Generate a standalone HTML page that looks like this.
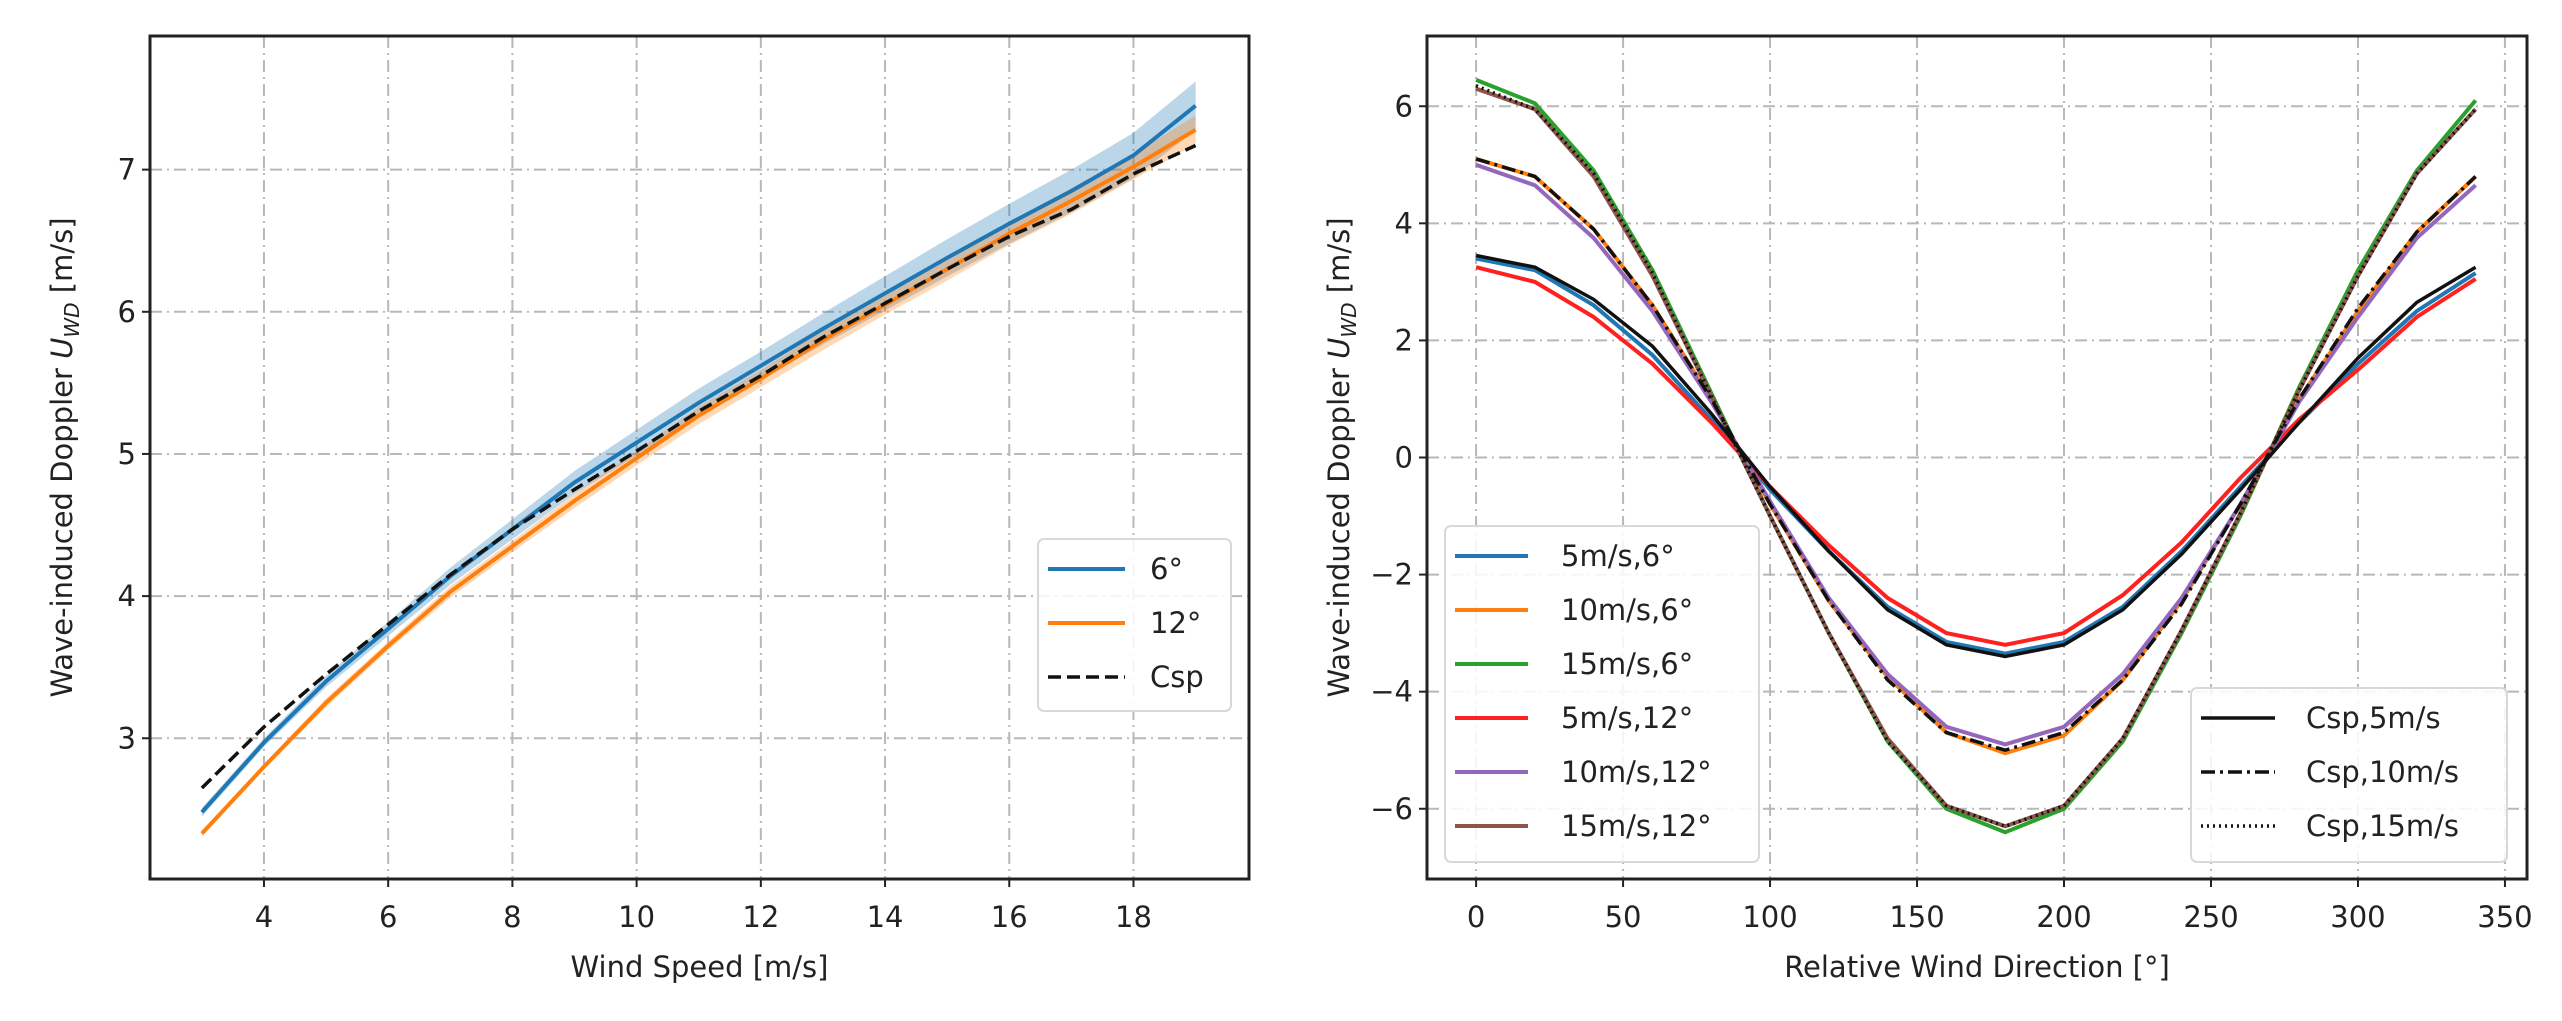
<!DOCTYPE html>
<html><head><meta charset="utf-8"><style>
html,body{margin:0;padding:0;background:#fff}
svg text{font-family:"DejaVu Sans","Liberation Sans",sans-serif;fill:#222}
</style></head><body>
<svg id="fig" width="2562" height="1016" xmlns="http://www.w3.org/2000/svg"></svg>
<script>
// ---- Left chart data ----
const speeds = [3,4,5,6,7,8,9,10,11,12,13,14,15,16,17,18,19];
const inc6 = [2.48,2.97,3.4,3.77,4.14,4.47,4.8,5.08,5.36,5.62,5.88,6.13,6.38,6.62,6.85,7.1,7.45];
const inc6Band = [0.03,0.03,0.04,0.05,0.06,0.07,0.08,0.09,0.1,0.1,0.11,0.12,0.13,0.14,0.15,0.16,0.17];
const inc12 = [2.33,2.8,3.25,3.65,4.03,4.35,4.67,4.97,5.27,5.53,5.8,6.05,6.3,6.55,6.78,7.02,7.28];
const inc12Band = [0.02,0.02,0.03,0.03,0.04,0.04,0.05,0.05,0.06,0.06,0.07,0.07,0.08,0.08,0.09,0.09,0.1];
const cspSpeed = [2.65,3.08,3.45,3.8,4.15,4.47,4.75,5.02,5.3,5.55,5.82,6.06,6.3,6.53,6.72,6.97,7.17];
const leftXTicks = [4,6,8,10,12,14,16,18];
const leftYTicks = [3,4,5,6,7];
// ---- Right chart data ----
const dirs = [0,20,40,60,80,100,120,140,160,180,200,220,240,260,280,300,320,340];
const s5i6 = [3.4,3.2,2.6,1.75,0.65,-0.55,-1.6,-2.55,-3.15,-3.35,-3.15,-2.55,-1.6,-0.5,0.6,1.6,2.5,3.15];
const s10i6 = [5.1,4.8,3.9,2.6,1.0,-0.8,-2.45,-3.75,-4.7,-5.05,-4.75,-3.8,-2.45,-0.8,1.0,2.5,3.85,4.8];
const s15i6 = [6.45,6.05,4.9,3.2,1.1,-1.0,-3.0,-4.85,-6.0,-6.4,-6.0,-4.85,-3.0,-1.0,1.2,3.2,4.9,6.1];
const s5i12 = [3.25,3.0,2.4,1.6,0.6,-0.5,-1.5,-2.4,-3.0,-3.2,-3.0,-2.35,-1.45,-0.35,0.65,1.5,2.4,3.05];
const s10i12 = [5.0,4.65,3.75,2.5,0.95,-0.75,-2.4,-3.7,-4.6,-4.9,-4.6,-3.7,-2.4,-0.8,0.95,2.4,3.75,4.65];
const s15i12 = [6.3,5.95,4.8,3.1,1.05,-1.0,-3.0,-4.8,-5.95,-6.3,-5.95,-4.8,-2.95,-0.95,1.15,3.1,4.85,5.95];
const csp5 = [3.45,3.25,2.7,1.9,0.75,-0.5,-1.6,-2.6,-3.2,-3.4,-3.2,-2.6,-1.65,-0.55,0.6,1.7,2.65,3.25];
const csp10 = [5.1,4.8,3.9,2.6,1.0,-0.8,-2.45,-3.8,-4.7,-5.0,-4.7,-3.8,-2.5,-0.8,1.0,2.55,3.85,4.8];
const csp15 = [6.35,5.95,4.85,3.15,1.05,-1.0,-3.0,-4.85,-5.95,-6.3,-5.95,-4.8,-2.95,-0.95,1.15,3.1,4.85,5.95];
const rightXTicks = [0,50,100,150,200,250,300,350];
const rightYTicks = [-6,-4,-2,0,2,4,6];

const NS='http://www.w3.org/2000/svg';
const svg=document.getElementById('fig');
function mk(tag,attrs,parent,name){const e=document.createElementNS(NS,tag);for(const k in attrs)e.setAttribute(k,attrs[k]);


(parent||svg).appendChild(e);return e;}

function axes(box,xr,yr){
  const sx=v=>box.x0+(v-xr[0])/(xr[1]-xr[0])*(box.x1-box.x0);
  const sy=v=>box.y1-(v-yr[0])/(yr[1]-yr[0])*(box.y1-box.y0);
  return {sx,sy};
}
function pathOf(xs,ys,sx,sy){return xs.map((x,i)=>(i?'L':'M')+sx(x).toFixed(1)+' '+sy(ys[i]).toFixed(1)).join(' ');}

function frame(g,box,sx,sy,xt,yt,xlab,ylab,fmt){
  xt.forEach(t=>{const x=sx(t);
    mk('line',{x1:x,y1:box.y0,x2:x,y2:box.y1,stroke:'#b8b8b8','stroke-width':2,'stroke-dasharray':'12 5 2 5'},g,'x-grid-line');
    mk('line',{x1:x,y1:box.y1,x2:x,y2:box.y1+8,stroke:'#222','stroke-width':2},g,'x-tick');
    const t1=mk('text',{x:x,y:box.y1+48,'font-size':29,'text-anchor':'middle'},g,'x-tick-label');t1.textContent=fmt(t);
  });
  yt.forEach(t=>{const y=sy(t);
    mk('line',{x1:box.x0,y1:y,x2:box.x1,y2:y,stroke:'#b8b8b8','stroke-width':2,'stroke-dasharray':'12 5 2 5'},g,'y-grid-line');
    mk('line',{x1:box.x0-8,y1:y,x2:box.x0,y2:y,stroke:'#222','stroke-width':2},g,'y-tick');
    const t1=mk('text',{x:box.x0-14,y:y+10,'font-size':29,'text-anchor':'end'},g,'y-tick-label');t1.textContent=fmt(t);
  });
  const xl=mk('text',{x:(box.x0+box.x1)/2,y:box.y1+98,'font-size':29,'text-anchor':'middle'},g,'x-axis-title');xl.textContent=xlab;
  const cy=(box.y0+box.y1)/2;
  const yl=mk('text',{x:0,y:0,'font-size':29,'text-anchor':'middle',transform:`translate(${box.x0-78},${cy}) rotate(-90)`},g,'y-axis-title');
  yl.innerHTML='Wave-induced Doppler <tspan font-style="italic">U</tspan><tspan font-style="italic" font-size="20" dy="7">WD</tspan><tspan dy="-7"> [m/s]</tspan>';
}
function spines(g,box){mk('rect',{x:box.x0,y:box.y0,width:box.x1-box.x0,height:box.y1-box.y0,fill:'none',stroke:'#222','stroke-width':3},g,'axes-frame');}

// ---- Left chart ----
const gL=mk('g',{},svg,'left-chart');
const boxL={x0:150,x1:1249,y0:36,y1:879};
const L=axes(boxL,[2.165,19.86],[2.01,7.94]);
frame(gL,boxL,L.sx,L.sy,leftXTicks,leftYTicks,'Wind Speed [m/s]','',v=>String(v));
function band(g,xs,ys,bs,col,name,sx,sy){
  const up=xs.map((x,i)=>sx(x).toFixed(1)+','+sy(ys[i]+bs[i]).toFixed(1));
  const dn=xs.map((x,i)=>sx(x).toFixed(1)+','+sy(ys[i]-bs[i]).toFixed(1)).reverse();
  mk('polygon',{points:up.concat(dn).join(' '),fill:col,'fill-opacity':0.3,stroke:'none'},g,name);
}
band(gL,speeds,inc6,inc6Band,'#1f77b4','band-6deg',L.sx,L.sy);
band(gL,speeds,inc12,inc12Band,'#ff7f0e','band-12deg',L.sx,L.sy);
mk('path',{d:pathOf(speeds,inc6,L.sx,L.sy),fill:'none',stroke:'#1f77b4','stroke-width':4},gL,'line-6deg');
mk('path',{d:pathOf(speeds,inc12,L.sx,L.sy),fill:'none',stroke:'#ff7f0e','stroke-width':4},gL,'line-12deg');
mk('path',{d:pathOf(speeds,cspSpeed,L.sx,L.sy),fill:'none',stroke:'#111','stroke-width':3.5,'stroke-dasharray':'13 6'},gL,'line-csp');
spines(gL,boxL);

function legend(g,x,y,w,h,items,lineLen,textDx,name){
  const lg=mk('g',{},g,name);
  mk('rect',{x:x,y:y,width:w,height:h,rx:6,fill:'#fff','fill-opacity':0.85,stroke:'#d8d8d8','stroke-width':2},lg,'legend-box');
  items.forEach((it,i)=>{const cy=y+30+i*54;
    const a={x1:x+10,y1:cy,x2:x+10+lineLen,y2:cy,stroke:it.c,'stroke-width':it.w||4};
    if(it.d)a['stroke-dasharray']=it.d;
    mk('line',a,lg,'legend-swatch');
    const t=mk('text',{x:x+textDx,y:cy+10,'font-size':29},lg,'legend-label');t.textContent=it.t;
  });
}
legend(gL,1038,539,193,172,[{t:'6°',c:'#1f77b4'},{t:'12°',c:'#ff7f0e'},{t:'Csp',c:'#111',d:'13 6',w:3.5}],77,112,'legend-left');

// ---- Right chart ----
const gR=mk('g',{},svg,'right-chart');
const boxR={x0:1427,x1:2527,y0:36,y1:879};
const R=axes(boxR,[-16.7,357.5],[-7.2,7.2]);
frame(gR,boxR,R.sx,R.sy,rightXTicks,rightYTicks,'Relative Wind Direction [°]','',v=>v<0?'\u2212'+(-v):String(v));
const series=[
 {v:s5i6,c:'#1f77b4',n:'line-5ms-6deg'},{v:s10i6,c:'#ff7f0e',n:'line-10ms-6deg'},{v:s15i6,c:'#2ca02c',n:'line-15ms-6deg'},
 {v:s5i12,c:'#ff2020',n:'line-5ms-12deg'},{v:s10i12,c:'#9467bd',n:'line-10ms-12deg'},{v:s15i12,c:'#8c564b',n:'line-15ms-12deg'}];
series.forEach(s=>mk('path',{d:pathOf(dirs,s.v,R.sx,R.sy),fill:'none',stroke:s.c,'stroke-width':4},gR,s.n));
mk('path',{d:pathOf(dirs,csp5,R.sx,R.sy),fill:'none',stroke:'#111','stroke-width':3.5},gR,'line-csp-5ms');
mk('path',{d:pathOf(dirs,csp10,R.sx,R.sy),fill:'none',stroke:'#111','stroke-width':3.5,'stroke-dasharray':'14 5 3 5'},gR,'line-csp-10ms');
mk('path',{d:pathOf(dirs,csp15,R.sx,R.sy),fill:'none',stroke:'#111','stroke-width':3.5,'stroke-dasharray':'2 4'},gR,'line-csp-15ms');
spines(gR,boxR);
legend(gR,1445,526,314,336,[{t:'5m/s,6°',c:'#1f77b4'},{t:'10m/s,6°',c:'#ff7f0e'},{t:'15m/s,6°',c:'#2ca02c'},{t:'5m/s,12°',c:'#ff2020'},{t:'10m/s,12°',c:'#9467bd'},{t:'15m/s,12°',c:'#8c564b'}],73,116,'legend-right-incidence');
legend(gR,2191,688,316,174,[{t:'Csp,5m/s',c:'#111',w:3.5},{t:'Csp,10m/s',c:'#111',d:'14 5 3 5',w:3.5},{t:'Csp,15m/s',c:'#111',d:'2 4',w:3.5}],74,115,'legend-right-csp');
</script>
</body></html>
